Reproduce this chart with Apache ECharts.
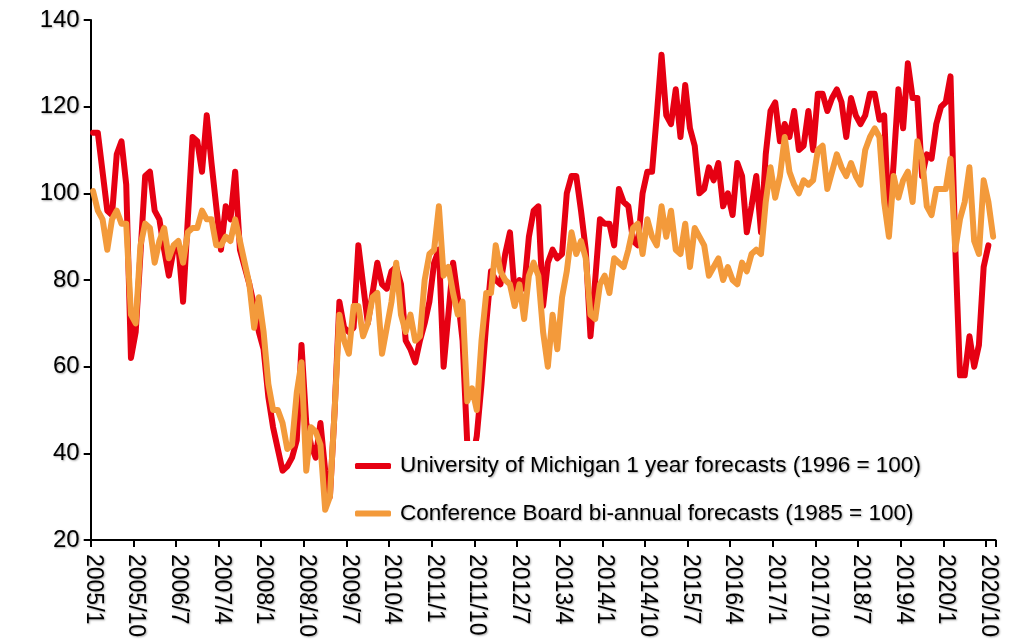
<!DOCTYPE html>
<html>
<head>
<meta charset="utf-8">
<script src="https://cdn.jsdelivr.net/npm/echarts@6/dist/echarts.min.js"></script>
<style>
  html, body { margin: 0; padding: 0; background: #fff; }
  #chart { width: 1013px; height: 641px; }
</style>
</head>
<body>
<div id="chart"></div>
<script>
// Monthly categories 2005/1 .. 2020/11
const startYear = 2005;
const monthCount = 191;
const categories = [];
for (let k = 0; k < monthCount; k++) {
  const y = startYear + Math.floor(k / 12);
  const m = (k % 12) + 1;
  categories.push(y + '/' + m);
}

const seriesNames = [
  'University of Michigan 1 year forecasts (1996 = 100)',
  'Conference Board bi-annual forecasts (1985 = 100)'
];

// University of Michigan (2005/1 .. 2020/10)
const michigan = [
  114,114,105,96,95,109,112,102,62,68,86,104,
  105,96,94,87,81,87,88,75,94,113,112,105,
  118,107,97,87,97,94,105,87,83,79,74,68,
  64,53,46,41,36,37,39,43,65,47,42,39,
  47,36,30,50,75,69,68,69,88,79,70,77,
  84,79,78,82,83,79,66,64,61,66,70,75,
  84,87,60,72,84,76,66,42,38,44,56,70,
  82,80,79,86,91,77,80,78,90,96,97,74,
  84,87,85,86,100,104,104,96,87,67,80,94,
  93,93,88,101,98,97,89,88,100,105,105,118,
  132,118,116,124,113,125,115,111,100,101,106,103,
  107,97,100,95,107,104,91,97,104,91,109,119,
  121,112,116,113,119,110,111,119,110,123,123,119,
  122,124,121,113,122,118,116,118,123,123,117,118,
  92,107,124,115,130,122,122,104,109,108,116,120,
  121,127,88,58,58,67,60,65,83,88
];

// Conference Board (2005/1 .. 2020/11)
const conferenceBoard = [
  100.5,96,94,87,94,96,93,93,72,70,88,93,
  92,84,89,92,85,88,89,84,91,92,92,96,
  94,94,88,88,90,89,94,89,84,79,69,76,
  68,56,50,50,47,41,42,54,61,36,46,45,
  42,27,30,50,72,66,63,74,74,67,70,76,
  77,63,69,75,84,72,68,72,66,67,80,86,
  87,97,81,83,77,72,75,52,55,50,66,77,
  77,88,82,80,79,74,79,71,81,84,81,68,
  60,72,64,76,82,91,86,89,85,72,71,79,
  81,77,85,84,83,87,92,93,86,94,90,88,
  97,90,96,87,86,93,83,92,90,88,81,83,
  85,80,83,80,79,84,82,86,87,86,98,106,
  99,104,113,105,102,100,103,102,103,110,111,101,
  105,109,106,104,107,104,102,110,113,115,113,98,
  90,104,99,103,105,98,112,108,97,95,101,101,
  101,108,87,94,98,106,89,86,103,98,90
];

const yTicks = { min: 20, max: 140, step: 20 };
const colors = ['#E60012', '#F39A3B'];

const font = "'Liberation Sans', Arial, sans-serif";
const shadow = {
  textShadowColor: 'rgba(0,0,0,0.35)',
  textShadowBlur: 2,
  textShadowOffsetX: 1,
  textShadowOffsetY: 1
};

const chart = echarts.init(document.getElementById('chart'), null, { renderer: 'canvas' });
chart.setOption({
  animation: false,
  backgroundColor: '#ffffff',
  grid: { left: 90.7, right: 17.5, top: 20, bottom: 101, containLabel: false },
  legend: {
    orient: 'vertical',
    left: 345,
    top: 441,
    padding: [10, 12, 10, 10],
    backgroundColor: '#ffffff',
    itemWidth: 36,
    itemHeight: 6,
    itemGap: 17.4,
    icon: 'roundRect',
    data: seriesNames,
    textStyle: Object.assign({
      fontFamily: font,
      fontSize: 22.5,
      color: '#000',
      lineHeight: 30,
      padding: [0, 0, 0, 4]
    }, shadow)
  },
  xAxis: {
    type: 'category',
    data: categories,
    boundaryGap: true,
    axisLine: { lineStyle: { color: '#000', width: 2 } },
    axisTick: { show: true, interval: 8, length: 7, lineStyle: { color: '#000', width: 2 } },
    axisLabel: Object.assign({
      interval: 8,
      rotate: -90,
      margin: 14,
      fontFamily: font,
      fontSize: 23,
      color: '#000'
    }, shadow),
    splitLine: { show: false }
  },
  yAxis: {
    type: 'value',
    min: yTicks.min,
    max: yTicks.max,
    interval: yTicks.step,
    axisLine: { show: true, lineStyle: { color: '#000', width: 2 } },
    axisTick: { show: true, length: 7, lineStyle: { color: '#000', width: 2 } },
    axisLabel: Object.assign({
      margin: 11,
      fontFamily: font,
      fontSize: 24,
      color: '#000'
    }, shadow),
    splitLine: { show: false }
  },
  series: [
    {
      name: seriesNames[0],
      type: 'line',
      data: michigan,
      symbol: 'none',
      color: colors[0],
      lineStyle: { color: colors[0], width: 6, cap: 'round', join: 'round' },
      z: 2
    },
    {
      name: seriesNames[1],
      type: 'line',
      data: conferenceBoard,
      symbol: 'none',
      color: colors[1],
      lineStyle: { color: colors[1], width: 6, cap: 'round', join: 'round' },
      z: 3
    }
  ]
});
</script>
</body>
</html>
